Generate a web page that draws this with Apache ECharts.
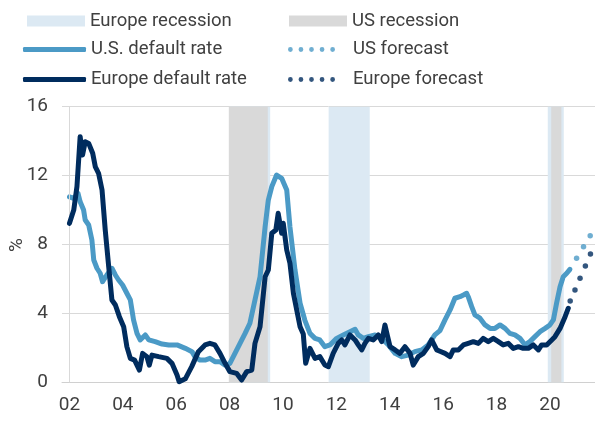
<!DOCTYPE html>
<html>
<head>
<meta charset="utf-8">
<script src="https://cdn.jsdelivr.net/npm/echarts@6/dist/echarts.min.js"></script>
<style>
html, body { margin: 0; padding: 0; background: #fff; }
#chart { width: 595px; height: 421px; }
</style>
</head>
<body>
<div id="chart"></div>
<script>
// x tick years, labels shown as two digits
var xTickYears = [2002, 2004, 2006, 2008, 2010, 2012, 2014, 2016, 2018, 2020];

// recession periods (decimal years)
var euRecessions = [[2008.0, 2009.52], [2011.71, 2013.25], [2019.92, 2020.52]];
var usRecessions = [[2007.97, 2009.43], [2020.05, 2020.43]];

// U.S. default rate, %
var usDates = [2002.00, 2002.16, 2002.32, 2002.40, 2002.53, 2002.59, 2002.72, 2002.84, 2002.91, 2003.03,
  2003.15, 2003.24, 2003.40, 2003.59, 2003.72, 2003.84, 2003.99, 2004.15, 2004.28, 2004.40,
  2004.53, 2004.65, 2004.84, 2004.97, 2005.21, 2005.47, 2005.72, 2006.03, 2006.34, 2006.59,
  2006.70, 2006.89, 2007.08, 2007.26, 2007.45, 2007.64, 2007.83, 2008.01, 2008.20, 2008.39,
  2008.58, 2008.76, 2008.95, 2009.14, 2009.33, 2009.45, 2009.58, 2009.76, 2009.95, 2010.14,
  2010.26, 2010.45, 2010.64, 2010.82, 2011.01, 2011.20, 2011.38, 2011.57, 2011.76, 2012.01,
  2012.26, 2012.51, 2012.70, 2012.82, 2013.01, 2013.20, 2013.45, 2013.70, 2013.95, 2014.20,
  2014.45, 2014.69, 2014.94, 2015.20, 2015.44, 2015.69, 2015.88, 2016.07, 2016.26, 2016.44,
  2016.63, 2016.76, 2016.88, 2016.94, 2017.07, 2017.19, 2017.38, 2017.57, 2017.76, 2017.94,
  2018.13, 2018.32, 2018.50, 2018.69, 2018.88, 2019.07, 2019.25, 2019.44, 2019.63, 2019.82,
  2020.00, 2020.13, 2020.25, 2020.38, 2020.50, 2020.63, 2020.75];
var usRate = [10.77, 10.68, 10.97, 10.48, 10.0, 9.42, 9.13, 8.26, 7.1, 6.62,
  6.33, 5.84, 6.23, 6.62, 6.23, 5.94, 5.65, 5.17, 4.78, 3.62,
  2.84, 2.46, 2.75, 2.46, 2.36, 2.22, 2.17, 2.17, 1.97, 1.78,
  1.49, 1.29, 1.29, 1.39, 1.2, 1.2, 1.0, 1.1, 1.68, 2.26,
  2.84, 3.43, 4.78, 6.13, 9.03, 10.58, 11.36, 12.03, 11.84, 11.16,
  9.03, 6.52, 4.59, 3.6, 2.84, 2.55, 2.46, 2.07, 2.17, 2.55,
  2.75, 2.94, 3.08, 2.75, 2.55, 2.65, 2.75, 2.55, 2.17, 1.68,
  1.49, 1.58, 1.78, 1.88, 2.17, 2.75, 3.0, 3.62, 4.2, 4.88,
  4.97, 5.07, 5.17, 4.97, 4.39, 3.91, 3.72, 3.33, 3.13, 3.13,
  3.33, 3.13, 2.84, 2.75, 2.55, 2.17, 2.36, 2.65, 2.94, 3.13,
  3.33, 3.62, 4.59, 5.55, 6.13, 6.33, 6.56];

// Europe default rate, %
var euDates = [2002.00, 2002.16, 2002.28, 2002.40, 2002.49, 2002.59, 2002.72, 2002.87, 2002.97, 2003.09,
  2003.22, 2003.34, 2003.47, 2003.59, 2003.72, 2003.87, 2004.03, 2004.15, 2004.28, 2004.44,
  2004.62, 2004.74, 2004.90, 2004.99, 2005.09, 2005.34, 2005.65, 2005.84, 2006.03, 2006.11,
  2006.34, 2006.58, 2006.83, 2007.08, 2007.26, 2007.45, 2007.64, 2007.83, 2008.01, 2008.26,
  2008.45, 2008.64, 2008.83, 2008.95, 2009.14, 2009.33, 2009.45, 2009.58, 2009.73, 2009.82,
  2009.95, 2010.01, 2010.14, 2010.26, 2010.39, 2010.64, 2010.76, 2010.85, 2011.01, 2011.20,
  2011.38, 2011.57, 2011.70, 2011.88, 2012.07, 2012.20, 2012.32, 2012.51, 2012.70, 2012.82,
  2012.95, 2013.07, 2013.20, 2013.38, 2013.57, 2013.70, 2013.82, 2013.92, 2014.01, 2014.20,
  2014.38, 2014.57, 2014.76, 2014.88, 2015.07, 2015.26, 2015.44, 2015.57, 2015.76, 2015.88,
  2016.07, 2016.26, 2016.38, 2016.57, 2016.76, 2016.94, 2017.13, 2017.32, 2017.50, 2017.69,
  2017.88, 2018.07, 2018.25, 2018.44, 2018.63, 2018.82, 2019.00, 2019.19, 2019.38, 2019.57,
  2019.69, 2019.88, 2020.07, 2020.19, 2020.38, 2020.57, 2020.69];
var euRate = [9.23, 10.0, 11.36, 14.26, 13.2, 13.97, 13.87, 13.3, 12.5, 12.13,
  11.16, 8.84, 6.71, 4.78, 4.49, 3.81, 3.23, 2.07, 1.39, 1.29,
  0.71, 1.68, 1.49, 1.0, 1.58, 1.49, 1.39, 1.1, 0.42, 0.03,
  0.2, 0.91, 1.78, 2.17, 2.26, 2.17, 1.68, 1.1, 0.62, 0.52,
  0.13, 0.62, 0.71, 2.26, 3.23, 6.13, 6.52, 8.65, 8.84, 9.81,
  8.65, 9.23, 7.68, 6.91, 5.17, 3.23, 2.8, 1.1, 1.97, 1.39,
  1.49, 1.0, 0.91, 1.68, 2.26, 2.46, 2.17, 2.75, 2.46, 2.17,
  1.88, 2.26, 2.55, 2.46, 2.75, 2.36, 3.33, 2.65, 2.07, 1.88,
  1.68, 2.07, 1.68, 1.0, 1.49, 1.68, 2.07, 2.46, 1.88, 1.8,
  1.68, 1.49, 1.88, 1.88, 2.17, 2.26, 2.36, 2.26, 2.55, 2.36,
  2.55, 2.36, 2.17, 2.26, 1.97, 2.07, 1.97, 1.97, 2.17, 1.88,
  2.17, 2.17, 2.46, 2.65, 3.13, 3.81, 4.3];

// forecasts, %
var usFcDates = [2021.00, 2021.26, 2021.51];
var usFc = [7.2, 7.87, 8.51];
var euFcDates = [2020.76, 2020.94, 2021.13, 2021.33, 2021.52];
var euFc = [4.72, 5.36, 6.04, 6.75, 7.45];

var lightBlue = '#4b9ac6';
var navy = '#002c5e';
var euBand = '#dce9f3';
var usBand = '#d9d9d9';
var txt = '#404040';
var font = 'Roboto';

function zip(xs, ys) {
    return xs.map(function (x, i) { return [x, ys[i]]; });
}
function bands(list) {
    return list.map(function (b) { return [{ xAxis: b[0] }, { xAxis: b[1] }]; });
}

// five little dots for the forecast legend icons
var dotPath = 'path://';
for (var i = 0; i < 5; i++) {
    var cx = 2.4 + i * 10.6;
    dotPath += 'M' + (cx - 2.4) + ',2.4A2.4,2.4,0,1,1,' + (cx + 2.4) + ',2.4A2.4,2.4,0,1,1,' + (cx - 2.4) + ',2.4Z';
}

function legendAt(name, left, top, icon, w, h, pad) {
    return {
        data: [{ name: name, icon: icon }],
        left: left, top: top, padding: 0,
        itemWidth: w, itemHeight: h,
        selectedMode: false,
        textStyle: { fontFamily: font, fontSize: 18.5, color: txt, lineHeight: 22, padding: [0, 0, 0, pad || 0] }
    };
}

var myChart = echarts.init(document.getElementById('chart'));
myChart.setOption({
    animation: false,
    legend: [
        legendAt('Europe recession', 27, 10, 'rect', 58, 11, 0),
        legendAt('US recession', 289, 10, 'rect', 58, 11, 0),
        legendAt('U.S. default rate', 23, 38.5, 'roundRect', 63, 5, 0),
        legendAt('US forecast', 288, 38.5, dotPath, 47, 4.8, 13),
        legendAt('Europe default rate', 23, 68.5, 'roundRect', 63, 5, 0),
        legendAt('Europe forecast', 288, 68.5, dotPath, 47, 4.8, 13)
    ],
    // y axis title, rotated
    graphic: [{
        type: 'text', x: 17, y: 245, rotation: Math.PI / 2,
        style: { text: '%', fontFamily: font, fontSize: 19, fill: txt, align: 'center', verticalAlign: 'middle' }
    }],
    grid: { left: 62, right: 0, top: 106.7, bottom: 38.7, containLabel: false, outerBoundsMode: 'none' },
    xAxis: {
        type: 'value',
        min: 2001.72,
        max: 2021.69,
        axisLine: { show: true, onZero: false, lineStyle: { color: '#d0d0d0', width: 1 } },
        axisTick: { show: false },
        splitLine: { show: false },
        axisLabel: {
            customValues: xTickYears,
            formatter: function (v) { return String(v).slice(2); },
            margin: 13,
            fontFamily: font, fontSize: 19, color: txt
        }
    },
    yAxis: {
        type: 'value',
        min: 0, max: 16, interval: 4,
        axisLine: { show: false },
        axisTick: { show: false },
        splitLine: { lineStyle: { color: '#d9d9d9', width: 1 } },
        axisLabel: { margin: 14, fontFamily: font, fontSize: 19, color: txt }
    },
    series: [
        {
            name: 'Europe recession', type: 'line', data: [], z: 1, color: euBand,
            markArea: { silent: true, itemStyle: { color: euBand }, data: bands(euRecessions) },
            markLine: {
                silent: true, symbol: ['none', 'none'], label: { show: false },
                lineStyle: { color: '#d9d9d9', type: 'solid', width: 1 },
                data: [{ xAxis: 2002 }]
            }
        },
        {
            name: 'US recession', type: 'line', data: [], z: 2, color: usBand,
            markArea: { silent: true, itemStyle: { color: usBand }, data: bands(usRecessions) }
        },
        {
            name: 'U.S. default rate', type: 'line', z: 4, color: lightBlue,
            data: zip(usDates, usRate), symbol: 'none',
            lineStyle: { width: 5, color: lightBlue, cap: 'round', join: 'round' }
        },
        {
            name: 'Europe default rate', type: 'line', z: 5, color: navy,
            data: zip(euDates, euRate), symbol: 'none',
            lineStyle: { width: 5, color: navy, cap: 'round', join: 'round' }
        },
        {
            name: 'US forecast', type: 'scatter', z: 6, color: lightBlue,
            data: zip(usFcDates, usFc), symbolSize: 5.5
        },
        {
            name: 'Europe forecast', type: 'scatter', z: 6, color: navy,
            data: zip(euFcDates, euFc), symbolSize: 5.5
        }
    ]
});
</script>
</body>
</html>
